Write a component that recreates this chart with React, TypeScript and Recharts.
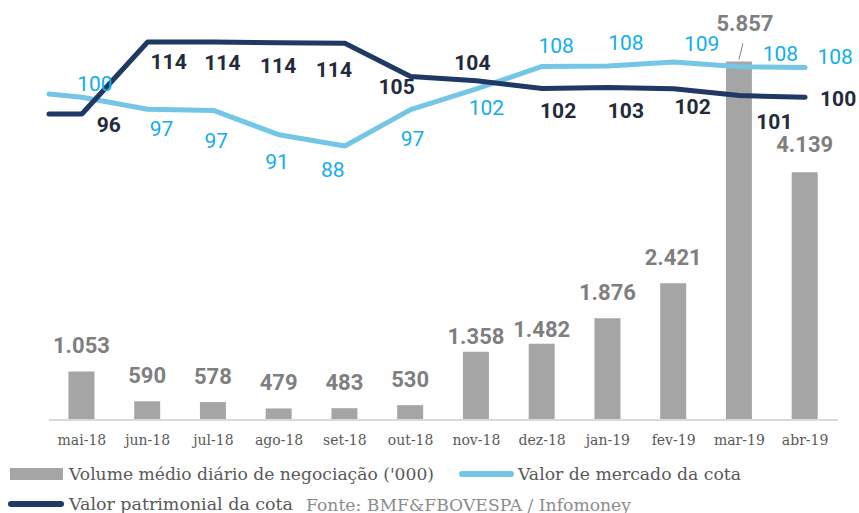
import React from 'react';
import { ComposedChart, Bar, Line, XAxis, YAxis, LabelList } from 'recharts';

// ---- data ----
const months = ['mai-18', 'jun-18', 'jul-18', 'ago-18', 'set-18', 'out-18', 'nov-18', 'dez-18', 'jan-19', 'fev-19', 'mar-19', 'abr-19'];
const volume = [1053, 590, 578, 479, 483, 530, 1358, 1482, 1876, 2421, 5857, 4139];
const navValue = [96, 114, 114, 113.8, 113.7, 105.4, 104.3, 102.4, 102.6, 102.3, 100.6, 100.2];
const marketValue = [100.2, 97.2, 96.9, 90.8, 88.0, 97.1, 102.3, 107.9, 108.0, 109.0, 107.8, 107.6];
// values of the previous period, visible at the left edge of the plot
const navPrev = 96;
const marketPrev = 101;

const data = [
  { idx: -0.5, nav: navPrev, mkt: marketPrev },
  ...months.map((m, i) => ({ idx: i, month: m, vol: volume[i], nav: navValue[i], mkt: marketValue[i] })),
];

// ---- label nudges (styling) ----
const navLabelNudge = [[27, 11], [21, 20], [9, 21], [-1, 23], [-11, 27], [-14, 11], [-4, -18], [16, 23], [18, 23], [19, 18], [35, 26], [33, 2]];
const mktLabelNudge = [[13, -13], [14, 20], [3, 31], [-2, 27], [-12, 24], [2, 29], [10, 19], [14, -20], [18, -23], [28, -18], [41, -13], [30, -11]];
const volLabelNudge = [[0, -26], [0, -26], [0, -26], [0, -26], [0, -26], [0, -26], [0, -15], [0, -14], [0, -26], [0, -26], [6, -38], [0, -28]];

const NAVY = '#1f3864';
const LIGHT = '#74c6e6';
const LIGHT_TXT = '#12aee9';
const BAR = '#a5a5a5';

const fmtThousands = (v: number) => {
  const s = String(Math.round(v));
  return s.replace(/\B(?=(\d{3})+(?!\d))/g, '.');
};

const getPt = (p: any) => {
  const vb = p.viewBox || {};
  const x = (vb.x ?? p.x) + (vb.width ?? p.width ?? 0) / 2;
  const y = vb.y ?? p.y;
  return { x, y };
};

const VolLabel = (p: any) => {
  if (p.value == null) return null;
  const row = data.findIndex((d) => d.vol === p.value);
  const mi = row - 1;
  if (mi < 0) return null;
  const { x, y } = getPt(p);
  const [dx, dy] = volLabelNudge[mi];
  return (
    <g>
      {mi === 10 && <line x1={x + 4} y1={y - 18} x2={x} y2={y - 2} stroke="#7f7f7f" strokeWidth={1} />}
      <text x={x + dx} y={y + dy} textAnchor="middle" dominantBaseline="central" fill="#7f7f7f" fontFamily="Roboto" fontWeight={700} fontSize={22}>
        {fmtThousands(p.value)}
      </text>
    </g>
  );
};

const makeLineLabel = (nudge: number[][], color: string, weight: number) => (p: any) => {
  const mi = p.index - 1;
  if (mi < 0) return null;
  const { x, y } = getPt(p);
  const [dx, dy] = nudge[mi];
  return (
    <text x={x + dx} y={y + dy} textAnchor="middle" dominantBaseline="central" fill={color} fontFamily="Roboto" fontWeight={weight} fontSize={21}>
      {Math.round(p.value)}
    </text>
  );
};

const NavLabel = makeLineLabel(navLabelNudge, '#232a3b', 700);
const MktLabel = makeLineLabel(mktLabelNudge, LIGHT_TXT, 400);

const legendFont = 'DejaVu Serif';

export default function App() {
  return (
    <div style={{ position: 'relative', width: 859, height: 513, background: '#fff' }}>
      <style>{'html,body{margin:0;padding:0;}'}</style>
      <ComposedChart width={859} height={513} data={data} margin={{ top: 20, right: 21, bottom: 63, left: 49 }}>
        <XAxis
          dataKey="idx"
          type="number"
          domain={[-0.5, 11.5]}
          ticks={months.map((_, i) => i)}
          tickFormatter={(v: number) => months[v] ?? ''}
          tickLine={false}
          axisLine={{ stroke: '#d9d9d9', strokeWidth: 2 }}
          height={30}
          tickMargin={9}
          tick={{ fill: '#595959', fontSize: 14, fontFamily: legendFont }}
          interval={0}
        />
        <YAxis yAxisId="vol" hide domain={[300, 6500]} />
        <YAxis yAxisId="line" hide orientation="right" domain={[19.5, 119.5]} />
        <Bar yAxisId="vol" dataKey="vol" fill={BAR} barSize={26} isAnimationActive={false}>
          <LabelList dataKey="vol" content={VolLabel} />
        </Bar>
        <Line yAxisId="line" dataKey="mkt" type="linear" stroke={LIGHT} strokeWidth={5} strokeLinecap="round" strokeLinejoin="round" dot={false} activeDot={false} isAnimationActive={false}>
          <LabelList dataKey="mkt" content={MktLabel} />
        </Line>
        <Line yAxisId="line" dataKey="nav" type="linear" stroke={NAVY} strokeWidth={5} strokeLinecap="round" strokeLinejoin="round" dot={false} activeDot={false} isAnimationActive={false}>
          <LabelList dataKey="nav" content={NavLabel} />
        </Line>
      </ComposedChart>
      <svg width={859} height={60} style={{ position: 'absolute', left: 0, top: 453 }}>
        <rect x={10} y={15} width={53} height={12} fill={BAR} />
        <text x={69} y={21} dominantBaseline="central" fontFamily={legendFont} fontSize={17} fill="#595959" textLength={365} lengthAdjust="spacingAndGlyphs">
          Volume médio diário de negociação ('000)
        </text>
        <line x1={462} y1={21} x2={511} y2={21} stroke={LIGHT} strokeWidth={6} strokeLinecap="round" />
        <text x={518} y={21} dominantBaseline="central" fontFamily={legendFont} fontSize={17} fill="#595959" textLength={223} lengthAdjust="spacingAndGlyphs">
          Valor de mercado da cota
        </text>
        <line x1={11} y1={51} x2={61} y2={51} stroke={NAVY} strokeWidth={6} strokeLinecap="round" />
        <text x={69} y={51} dominantBaseline="central" fontFamily={legendFont} fontSize={17} fill="#595959" textLength={224} lengthAdjust="spacingAndGlyphs">
          Valor patrimonial da cota
        </text>
        <text x={306} y={52} dominantBaseline="central" fontFamily={legendFont} fontSize={16} fill="#8c8c8c" textLength={325} lengthAdjust="spacingAndGlyphs">
          Fonte: BMF&amp;FBOVESPA / Infomoney
        </text>
      </svg>
    </div>
  );
}
